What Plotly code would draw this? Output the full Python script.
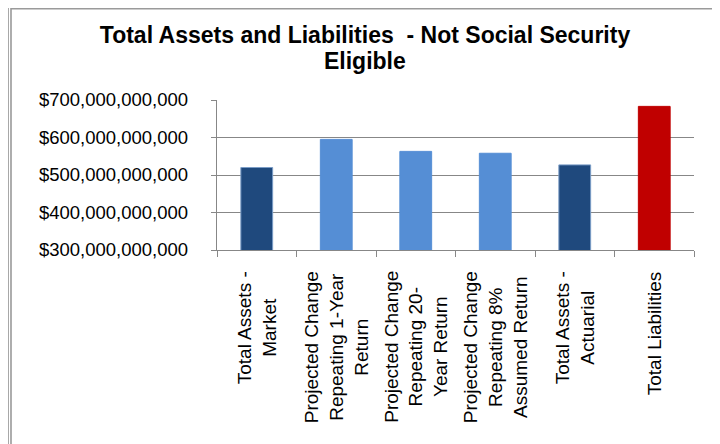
import plotly.graph_objects as go

categories = [
    "Total Assets -<br>Market",
    "Projected Change<br>Repeating 1-Year<br>Return",
    "Projected Change<br>Repeating 20-<br>Year Return",
    "Projected Change<br>Repeating 8%<br>Assumed Return",
    "Total Assets -<br>Actuarial",
    "Total Liabilities",
]
cat_keys = ["c1", "c2", "c3", "c4", "c5", "c6"]
values = [520e9, 595e9, 563e9, 558e9, 527e9, 683e9]
bar_colors = ["#1F497D", "#558ED5", "#558ED5", "#558ED5", "#1F497D", "#C00000"]
line_colors = ["#7A9CC6", "#558ED5", "#558ED5", "#558ED5", "#7A9CC6", "#C00000"]
y_ticks = [300e9, 400e9, 500e9, 600e9, 700e9]
y_tick_text = ["$" + format(int(v), ",") for v in y_ticks]
title_lines = ["Total Assets and Liabilities  - Not Social Security", "Eligible"]

# page is drawn with an 8px body offset; geometry below is in figure pixels
W, H = 720, 444
L, R, T, B = 209, 34, 92, 202
pw, ph = W - L - R, H - T - B

def px(x):
    return (x - L) / pw

def py(y):
    return (H - B - y) / ph

fig = go.Figure()
fig.add_trace(go.Bar(
    x=cat_keys, y=values, width=0.4,
    marker=dict(color=bar_colors, line=dict(color=line_colors, width=1)),
    hoverinfo="skip",
))

font_family = "Liberation Sans, Arial, sans-serif"

annotations = []
for k, lab in zip(cat_keys, categories):
    annotations.append(dict(
        x=k, xref="x", y=0, yref="paper", yanchor="top", xanchor="center",
        yshift=-19, text=lab, textangle=-90, showarrow=False, align="center",
        font=dict(family=font_family, size=19, color="#000000"),
    ))
annotations.append(dict(
    x=px(357), xref="paper", y=py(38), yref="paper", xanchor="center", yanchor="top",
    text="<b>" + title_lines[1] + "</b>", showarrow=False,
    font=dict(family=font_family, size=23, color="#000000"),
))

shapes = [
    dict(type="rect", xref="paper", yref="paper",
         x0=px(3), x1=px(708), y0=py(460), y1=py(0.8),
         line=dict(color="#9A9A9A", width=1.6), layer="below"),
    dict(type="line", xref="paper", yref="paper",
         x0=px(0.5), x1=px(0.5), y0=py(460), y1=py(-5),
         line=dict(color="#A8A8A8", width=1), layer="below"),
]

fig.update_layout(
    width=W, height=H,
    margin=dict(l=L, r=R, t=T, b=B),
    paper_bgcolor="#FFFFFF", plot_bgcolor="#FFFFFF",
    showlegend=False,
    title=dict(
        text="<b>" + title_lines[0] + "</b>",
        x=357 / W, xref="container", xanchor="center",
        y=1 - 19 / H, yref="container", yanchor="top",
        font=dict(family=font_family, size=23, color="#000000"),
    ),
    annotations=annotations,
    shapes=shapes,
    bargap=0.6,
)

fig.update_xaxes(
    type="category", categoryorder="array", categoryarray=cat_keys,
    showticklabels=False, tickson="boundaries", ticks="outside", ticklen=6,
    tickcolor="#878787", tickwidth=1.3,
    showline=True, linecolor="#878787", linewidth=1.3,
    showgrid=False, range=[-0.5, 5.5], fixedrange=True,
)
fig.update_yaxes(
    range=[300e9, 700e9], tickvals=y_ticks, ticktext=y_tick_text,
    ticks="outside", ticklen=5, tickcolor="#878787", tickwidth=1.3,
    showline=True, linecolor="#878787", linewidth=1.3,
    showgrid=True, gridcolor="#878787", gridwidth=1.3, zeroline=False,
    ticklabelstandoff=19,
    tickfont=dict(family=font_family, size=18.5, color="#000000"),
    fixedrange=True,
)

fig.write_html("out.html")
